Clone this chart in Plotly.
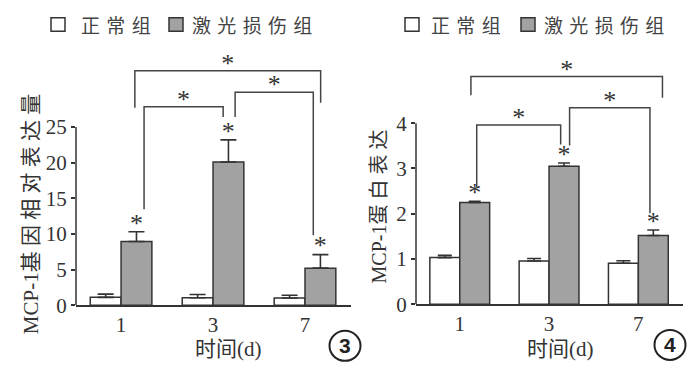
import plotly.graph_objects as go

# ---------------- data ----------------
days = ["1", "3", "7"]
group_names = ["正常组", "激光损伤组"]

gene_normal = [1.1, 1.05, 1.0]
gene_normal_err = [0.45, 0.45, 0.4]
gene_laser = [8.95, 20.1, 5.2]
gene_laser_err = [1.35, 3.1, 1.9]

prot_normal = [1.03, 0.955, 0.905]
prot_normal_err = [0.05, 0.055, 0.055]
prot_laser = [2.25, 3.05, 1.52]
prot_laser_err = [0.025, 0.07, 0.12]

gene_ticks = [0, 5, 10, 15, 20, 25]
prot_ticks = [0, 1, 2, 3, 4]

gene_title = "MCP-1基 因 相 对 表 达 量"
prot_title = "MCP-1蛋 白 表 达"
x_title = "时间(d)"
panel_labels = ["3", "4"]

# significance brackets: (x0, x1, top, left-leg end, right-leg end) in data units
gene_brackets = [(0.15, 2.17, 32.9, 27.7, 28.4),
                 (0.25, 1.11, 27.85, 13.45, 26.4),
                 (1.24, 2.09, 29.9, 26.4, 9.8)]
prot_brackets = [(0.125, 2.27, 5.03, 4.62, 4.56),
                 (0.19, 1.13, 3.96, 2.59, 3.53),
                 (1.23, 2.13, 4.34, 3.51, 2.01)]

# ---------------- style ----------------
W, H = 700, 376
EDGE = "#333333"
GRAY = "#a2a2a2"
TXT = "#333333"
SERIF = "Liberation Serif, Noto Sans CJK SC, serif"
SANS = "Noto Sans CJK SC, sans-serif"
STAR_SIZE = 26

pos = list(range(len(days)))


def px(x):
    return x / W


def py(y):
    return 1 - y / H


fig = go.Figure()

panels = [
    dict(xa="x", ya="y", normal=gene_normal, nerr=gene_normal_err, laser=gene_laser,
         lerr=gene_laser_err, brackets=gene_brackets, ticks=gene_ticks,
         left=68, right=343, zero=307, top_px=123, cap_n=8, cap_l=8),
    dict(xa="x2", ya="y2", normal=prot_normal, nerr=prot_normal_err, laser=prot_laser,
         lerr=prot_laser_err, brackets=prot_brackets, ticks=prot_ticks,
         left=408, right=675, zero=306, top_px=119, cap_n=7, cap_l=6),
]

shapes = []
annotations = []

for p in panels:
    unit = (p["zero"] - p["top_px"]) / p["ticks"][-1]  # px per data unit
    fig.add_trace(go.Bar(
        x=pos, y=p["normal"], name=group_names[0], xaxis=p["xa"], yaxis=p["ya"],
        marker=dict(color="white", line=dict(color=EDGE, width=1.5)),
        error_y=dict(type="data", array=p["nerr"], arrayminus=[0] * 3, symmetric=False,
                     color=EDGE, thickness=1.6, width=p["cap_n"]),
        showlegend=False, hoverinfo="skip"))
    fig.add_trace(go.Bar(
        x=pos, y=p["laser"], name=group_names[1], xaxis=p["xa"], yaxis=p["ya"],
        marker=dict(color=GRAY, line=dict(color=EDGE, width=1.5)),
        error_y=dict(type="data", array=p["lerr"], arrayminus=[0] * 3, symmetric=False,
                     color=EDGE, thickness=1.6, width=p["cap_l"]),
        showlegend=False, hoverinfo="skip"))
    # stars above laser bars
    star_y = [v + e + 7 / unit for v, e in zip(p["laser"], p["lerr"])]
    fig.add_trace(go.Scatter(
        x=[i + 1 / 6 for i in pos], y=star_y, mode="text", text=["*"] * 3,
        textfont=dict(family=SERIF, size=STAR_SIZE, color=TXT), xaxis=p["xa"], yaxis=p["ya"],
        showlegend=False, hoverinfo="skip"))
    # brackets
    bx, by, sx, sy = [], [], [], []
    for x0, x1, top, l0, l1 in p["brackets"]:
        bx += [x0, x0, x1, x1, None]
        by += [l0, top, top, l1, None]
        sx.append((x0 + x1) / 2)
        sy.append(top + 5.5 / unit)
    fig.add_trace(go.Scatter(x=bx, y=by, mode="lines", line=dict(color="#444444", width=1.5),
                             xaxis=p["xa"], yaxis=p["ya"], showlegend=False, hoverinfo="skip",
                             cliponaxis=False))
    fig.add_trace(go.Scatter(x=sx, y=sy, mode="text", text=["*"] * len(sx),
                             textfont=dict(family=SERIF, size=STAR_SIZE, color=TXT),
                             xaxis=p["xa"], yaxis=p["ya"], showlegend=False, hoverinfo="skip",
                             cliponaxis=False))
    # y axis line from 0 to max tick
    shapes.append(dict(type="line", xref="paper", yref=p["ya"], x0=px(p["left"]),
                       x1=px(p["left"]), y0=0, y1=p["ticks"][-1],
                       line=dict(color=EDGE, width=1.5)))


def xaxis_cfg(p):
    return dict(domain=[px(p["left"]), px(p["right"])], type="linear",
                range=[-0.49, 2.5], tickvals=pos, ticktext=days,
                showline=True, linecolor=EDGE, linewidth=1.5,
                ticks="", showgrid=False, zeroline=False, anchor=p["ya"],
                tickfont=dict(family=SERIF, size=21, color=TXT), fixedrange=True)


def yaxis_cfg(p):
    unit = (p["zero"] - p["top_px"]) / p["ticks"][-1]
    top_val = (p["zero"] - 40) / unit
    return dict(domain=[py(p["zero"]), py(40)], range=[0, top_val], tickvals=p["ticks"],
                ticks="outside", ticklen=4, tickwidth=1.5, tickcolor=EDGE, showline=False,
                showgrid=False, zeroline=False, anchor=p["xa"],
                tickfont=dict(family=SERIF, size=21, color=TXT), fixedrange=True)


# y titles
annotations.append(dict(text=gene_title, x=px(23), y=py(213), xref="paper", yref="paper",
                        textangle=-90, showarrow=False, xanchor="center", yanchor="middle",
                        font=dict(family=SERIF, size=21, color=TXT)))
annotations.append(dict(text=prot_title, x=px(371), y=py(205), xref="paper", yref="paper",
                        textangle=-90, showarrow=False, xanchor="center", yanchor="middle",
                        font=dict(family=SERIF, size=20, color=TXT)))
# x titles
for cx in (220, 552):
    annotations.append(dict(text=x_title, x=px(cx), y=py(352), xref="paper", yref="paper",
                            showarrow=False, xanchor="center", yanchor="middle",
                            font=dict(family=SERIF, size=21, color=TXT)))

# legends (one per panel)
SP = "\u2004"
for sq1, t1, sq2, t2 in ((43, 71, 161, 182), (397, 421, 513, 534)):
    shapes.append(dict(type="rect", xref="paper", yref="paper", x0=px(sq1), x1=px(sq1 + 14),
                       y0=py(24), y1=py(10), fillcolor="white", line=dict(color=EDGE, width=1.5)))
    shapes.append(dict(type="rect", xref="paper", yref="paper", x0=px(sq2), x1=px(sq2 + 14),
                       y0=py(24), y1=py(10), fillcolor=GRAY, line=dict(color=EDGE, width=1.5)))
    annotations.append(dict(text=SP.join(group_names[0]), x=px(t1), y=py(17), xref="paper",
                            yref="paper", showarrow=False, xanchor="left", yanchor="middle",
                            font=dict(family=SANS, size=19, color="#444444")))
    annotations.append(dict(text=SP.join(group_names[1]), x=px(t2), y=py(17), xref="paper",
                            yref="paper", showarrow=False, xanchor="left", yanchor="middle",
                            font=dict(family=SANS, size=19, color="#444444")))

# circled panel numbers
for (cx, cy), lab in zip(((337, 349), (662, 348)), panel_labels):
    shapes.append(dict(type="circle", xref="paper", yref="paper", x0=px(cx - 15.5),
                       x1=px(cx + 15.5), y0=py(cy + 15.5), y1=py(cy - 15.5),
                       line=dict(color="#222222", width=2)))
    annotations.append(dict(text="<b>" + lab + "</b>", x=px(cx), y=py(cy), xref="paper",
                            yref="paper", showarrow=False, xanchor="center", yanchor="middle",
                            font=dict(family="Liberation Sans, Arial, sans-serif", size=21,
                                      color="#222222")))

fig.update_layout(
    width=W, height=H, margin=dict(l=0, r=0, t=0, b=0),
    paper_bgcolor="white", plot_bgcolor="white",
    barmode="group", bargap=0.33, bargroupgap=0,
    xaxis=xaxis_cfg(panels[0]), yaxis=yaxis_cfg(panels[0]),
    xaxis2=xaxis_cfg(panels[1]), yaxis2=yaxis_cfg(panels[1]),
    shapes=shapes, annotations=annotations, showlegend=False,
)

fig.write_html("out.html")
